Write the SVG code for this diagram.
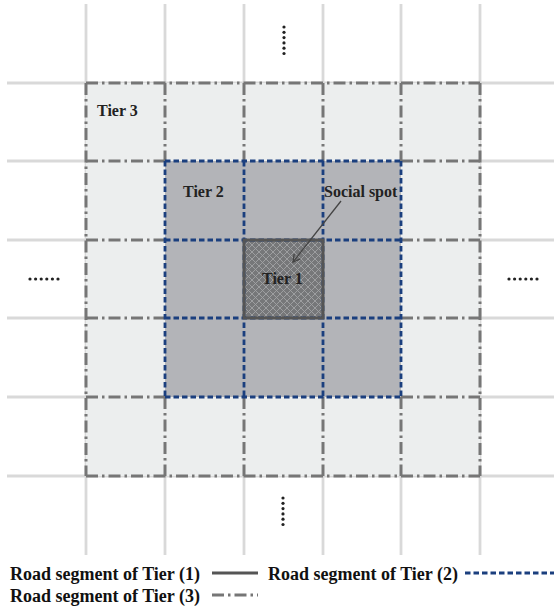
<svg xmlns="http://www.w3.org/2000/svg" width="554" height="606" viewBox="0 0 554 606">
<style>
.grid{stroke:#d9d9d9;stroke-width:2.8;fill:none}
.t3{stroke:#767676;stroke-width:3;stroke-dasharray:12 4 2.5 4;fill:none}
.t2{stroke:#1b3f7e;stroke-width:2.8;stroke-dasharray:5.5 3;fill:none}
.t1{stroke:#555;stroke-width:3;fill:none}
.lbl{font-family:"Liberation Serif","Times New Roman",serif;font-weight:bold;font-size:16px;fill:#222}
.leg{font-family:"Liberation Serif","Times New Roman",serif;font-weight:bold;font-size:18px;fill:#111}
.dot{fill:#222}
</style>
<defs>
<pattern id="hatch" width="7" height="7" patternUnits="userSpaceOnUse">
<rect width="7" height="7" fill="#767779"/>
<path d="M0,0 L7,7 M7,0 L0,7" stroke="#a2a3a5" stroke-width="0.9"/>
</pattern>
<marker id="arr" markerWidth="10" markerHeight="10" refX="8" refY="5" orient="auto" markerUnits="userSpaceOnUse">
<path d="M1,1 L8,5 L1,9" fill="none" stroke="#444" stroke-width="1.3"/>
</marker>
</defs>
<rect width="554" height="606" fill="#fff"/>
<g id="grid-background" class="grid">
<path d="M86,4V555M165,4V555M244,4V555M323,4V555M401,4V555M480,4V555"/>
<path d="M7,83H554M7,161H554M7,240H554M7,318H554M7,397H554M7,476H554"/>
</g>
<g id="tier3"><rect x="86" y="83" width="394" height="393" fill="#eceeee"/></g>
<g id="tier2"><rect x="165" y="161" width="236" height="236" fill="#b3b4b8"/></g>
<g id="tier1"><rect x="244" y="240" width="79" height="78" fill="url(#hatch)"/></g>
<g id="connectors">
<path class="t3" d="M86,83H480M86,476H480M86,161H165M401,161H480M86,240H165M401,240H480M86,318H165M401,318H480M86,397H165M401,397H480"/>
<path class="t3" d="M86,83V476M480,83V476M165,83V161M244,83V161M323,83V161M401,83V161M165,397V476M244,397V476M323,397V476M401,397V476"/>
<path class="t2" d="M165,161H401M165,240H401M165,318H401M165,397H401M165,161V397M244,161V397M323,161V397M401,161V397"/>
<rect class="t1" x="244" y="240" width="79" height="78"/>
<line x1="341" y1="201" x2="293" y2="262" stroke="#444" stroke-width="1.3" marker-end="url(#arr)"/>
</g>
<g id="labels">
<text class="lbl" x="97" y="116">Tier 3</text>
<text class="lbl" x="183" y="197">Tier 2</text>
<text class="lbl" x="324" y="197">Social spot</text>
<text class="lbl" x="262" y="284">Tier 1</text>
</g>
<g id="ellipses">
<g class="dot"><circle cx="284" cy="27" r="1.6"/><circle cx="284" cy="32.3" r="1.6"/><circle cx="284" cy="37.6" r="1.6"/><circle cx="284" cy="42.9" r="1.6"/><circle cx="284" cy="48.2" r="1.6"/><circle cx="284" cy="53.5" r="1.6"/></g>
<g class="dot"><circle cx="283" cy="498" r="1.6"/><circle cx="283" cy="503.3" r="1.6"/><circle cx="283" cy="508.6" r="1.6"/><circle cx="283" cy="513.9" r="1.6"/><circle cx="283" cy="519.2" r="1.6"/><circle cx="283" cy="524.5" r="1.6"/></g>
<g class="dot"><circle cx="30" cy="279" r="1.6"/><circle cx="35.6" cy="279" r="1.6"/><circle cx="41.2" cy="279" r="1.6"/><circle cx="46.8" cy="279" r="1.6"/><circle cx="52.4" cy="279" r="1.6"/><circle cx="58" cy="279" r="1.6"/></g>
<g class="dot"><circle cx="509" cy="279" r="1.6"/><circle cx="514.6" cy="279" r="1.6"/><circle cx="520.2" cy="279" r="1.6"/><circle cx="525.8" cy="279" r="1.6"/><circle cx="531.4" cy="279" r="1.6"/><circle cx="537" cy="279" r="1.6"/></g>
</g>
<g id="legend">
<text class="leg" x="10" y="580">Road segment of Tier (1)</text>
<line class="t1" x1="212" y1="573" x2="258" y2="573" stroke="#444"/>
<text class="leg" x="268" y="580">Road segment of Tier (2)</text>
<line class="t2" x1="465" y1="573" x2="554" y2="573"/>
<text class="leg" x="10" y="602">Road segment of Tier (3)</text>
<line class="t3" x1="212" y1="595" x2="258" y2="595"/>
</g>
</svg>
